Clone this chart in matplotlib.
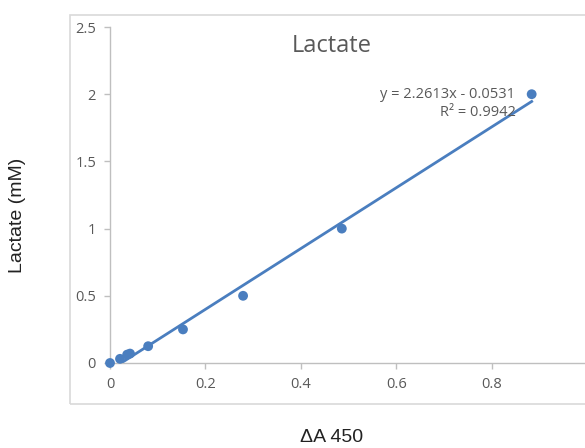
import matplotlib
matplotlib.use("Agg")
import matplotlib.pyplot as plt
from matplotlib.patches import Rectangle
import numpy as np

delta_a450 = [0.0, 0.021, 0.036, 0.042, 0.080, 0.153, 0.279, 0.486, 0.884]
lactate_mM = [0.0, 0.031, 0.0625, 0.07, 0.125, 0.25, 0.5, 1.0, 2.0]
slope = 2.2613
intercept = -0.0531
r_squared = 0.9942
x_ticks = [0, 0.2, 0.4, 0.6, 0.8]
x_tick_labels = ["0", "0.2", "0.4", "0.6", "0.8"]
y_ticks = [0, 0.5, 1, 1.5, 2, 2.5]
y_tick_labels = ["0", "0.5", "1", "1.5", "2", "2.5"]

blue = "#4a7ebf"
gray_text = "#595959"
spine_gray = "#bfbfbf"

fig = plt.figure(figsize=(5.85, 4.48), dpi=100)
fig.patch.set_facecolor("white")

# chart-area frame
fig.patches.append(Rectangle((70 / 585, 1 - 404 / 448), 530 / 585, (404 - 15) / 448,
                             transform=fig.transFigure, fill=False,
                             edgecolor="#d9d9d9", linewidth=1.2))

ax = fig.add_axes([110 / 585, 1 - 363 / 448, (587 - 110) / 585, (363 - 27) / 448])
ax.set_xlim(0, 1.0)
ax.set_ylim(0, 2.5)

for s in ["top", "right"]:
    ax.spines[s].set_visible(False)
for s in ["left", "bottom"]:
    ax.spines[s].set_color(spine_gray)
    ax.spines[s].set_linewidth(1.0)

ax.set_xticks(x_ticks)
ax.set_xticklabels(x_tick_labels)
ax.set_yticks(y_ticks)
ax.set_yticklabels(y_tick_labels)
ax.tick_params(axis="both", colors=spine_gray, labelcolor=gray_text, length=4,
               width=1.0, labelsize=10.5)
ax.tick_params(axis="x", pad=6)
ax.tick_params(axis="y", pad=6)
for lab in ax.get_xticklabels() + ax.get_yticklabels():
    lab.set_fontfamily(["Open Sans", "DejaVu Sans"])

xs = np.array([min(delta_a450), max(delta_a450)])
ax.plot(xs, slope * xs + intercept, color=blue, linewidth=2.0, zorder=2)
ax.scatter(delta_a450, lactate_mM, s=50, color=blue, zorder=3, clip_on=False,
           edgecolors="none")

fig.text(332 / 585, 1 - 46 / 448, "Lactate", ha="center", va="center",
         fontsize=17, color=gray_text, family=["Open Sans", "DejaVu Sans"])

fig.text(515 / 585, 1 - 94 / 448, "y = 2.2613x - 0.0531", ha="right", va="center",
         fontsize=10.5, color=gray_text, family=["Open Sans", "DejaVu Sans"])
fig.text(478 / 585, 1 - 113 / 448, f"R² = {r_squared}", ha="center", va="center",
         fontsize=10.5, color=gray_text, family=["Open Sans", "DejaVu Sans"])

fig.text(18 / 585, 1 - 215 / 448, "Lactate (mM)", rotation=90, ha="center", va="center",
         fontsize=14, color="#222222", family=["Liberation Sans", "DejaVu Sans"])
fig.text(332 / 585, 1 - 437 / 448, "ΔA 450", ha="center", va="center",
         fontsize=14, color="#222222", family=["Liberation Sans", "DejaVu Sans"])

fig.savefig("out.png", dpi=100, facecolor="white")
